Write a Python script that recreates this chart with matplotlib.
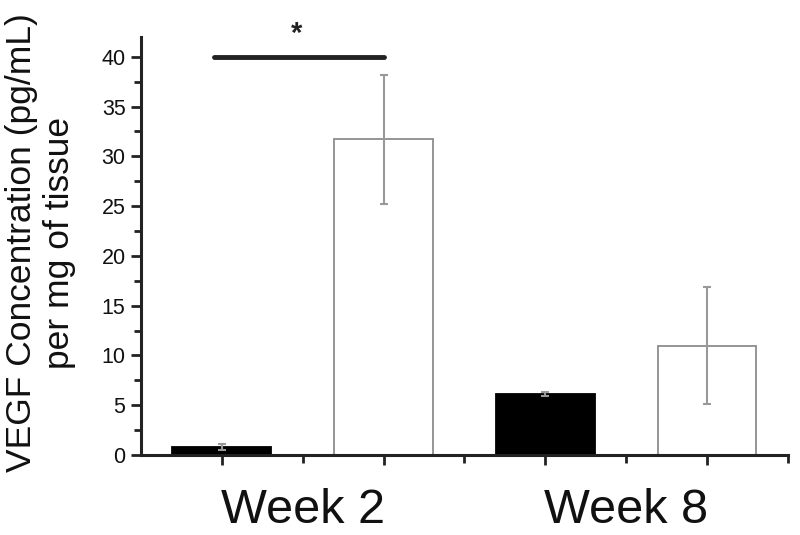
import matplotlib
matplotlib.use("Agg")
import matplotlib.pyplot as plt
import numpy as np

plt.rcParams['font.family'] = ['Liberation Sans', 'DejaVu Sans']

groups = ['Week 2', 'Week 8']
bar_positions = [1, 3, 5, 7]
values = [0.8, 31.7, 6.1, 11.0]
errors = [0.3, 6.5, 0.2, 5.85]
fill_colors = ['black', 'white', 'black', 'white']
edge_colors = ['black', '#8c8c8c', 'black', '#8c8c8c']
sig_x = [0.9, 3.0]
sig_y = 40
sig_label = '*'

fig = plt.figure(figsize=(8, 5.35), dpi=100)
ax = fig.add_axes([0.176, 0.1495, 0.809, 0.7815])

ax.bar(bar_positions, values, width=1.22, color=fill_colors, edgecolor=edge_colors,
       linewidth=1.3, zorder=2)
ax.errorbar(bar_positions, values, yerr=errors, fmt='none', ecolor='#999999',
            elinewidth=1.5, capsize=3, capthick=1.5, zorder=3)

ax.plot(sig_x, [sig_y, sig_y], color='#222222', lw=3.5, solid_capstyle='round')
ax.text(np.mean(sig_x) - 0.02, sig_y + 0.9, sig_label, ha='center', va='bottom',
        fontsize=21, fontweight='bold', color='#222222')

ax.set_xlim(0, 8)
ax.set_ylim(0, 42)
ax.set_yticks(np.arange(0, 41, 5))
ax.set_yticks(np.arange(2.5, 41, 5), minor=True)
ax.set_xticks(bar_positions)
ax.set_xticklabels([''] * 4)
ax.set_xticks([2, 4, 6, 8], minor=True)
ax.set_xticklabels([groups[0], '', groups[1], ''], minor=True)

for s in ['top', 'right']:
    ax.spines[s].set_visible(False)
for s in ['left', 'bottom']:
    ax.spines[s].set_linewidth(2.2)
    ax.spines[s].set_color('#222222')

ax.tick_params(axis='y', which='major', length=7, width=2, labelsize=15.5, pad=4, colors='#222222')
ax.tick_params(axis='y', which='minor', length=5, width=2, colors='#222222')
ax.tick_params(axis='x', which='major', length=7, width=2, colors='#222222')
ax.tick_params(axis='x', which='minor', length=6, width=2, labelsize=35, pad=18, colors='#222222')
for lab in ax.get_yticklabels() + ax.get_xticklabels(minor=True):
    lab.set_color('#111111')

ax.set_ylabel('VEGF Concentration (pg/mL)\nper mg of tissue', fontsize=25.5,
              linespacing=1.2, color='#111111')
ax.yaxis.set_label_coords(-0.1, 0.507)

fig.savefig('out.png', dpi=100)
